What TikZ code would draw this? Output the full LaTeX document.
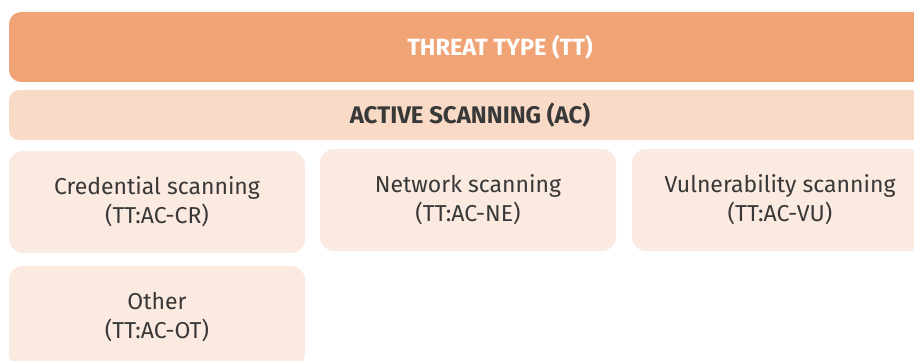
\documentclass[tikz,border=0pt]{standalone}
\usepackage{fontspec}
\setmainfont{Fira Sans}
\usetikzlibrary{positioning}
\definecolor{ttorange}{HTML}{F0A476}
\definecolor{acpeach}{HTML}{F8DAC7}
\definecolor{cardpeach}{HTML}{FBEAE0}
\definecolor{cardtext}{HTML}{383838}

\begin{document}
\begin{tikzpicture}[x=1pt,y=-1pt,
	threatbar/.style={fill=ttorange,rounded corners=12pt,inner sep=0pt,
		minimum width=982pt,minimum height=70pt,text=white,
		font=\fontsize{23.5}{26}\selectfont\bfseries},
	scanbar/.style={fill=acpeach,rounded corners=10pt,inner sep=0pt,
		minimum width=922pt,minimum height=50pt,text=cardtext,
		font=\fontsize{24}{26}\selectfont\bfseries},
	subcard/.style={fill=cardpeach,rounded corners=14pt,inner sep=0pt,
		minimum width=296pt,minimum height=102pt,text=cardtext,align=center,
		font=\fontsize{23}{29}\selectfont}
	]
	\useasboundingbox (0,0) rectangle (914,361);
	\clip (0,0) rectangle (914,361);

	\node[threatbar] (tt) at (500,47) {THREAT TYPE (TT)};
	\node[scanbar] (ac) at (470,115) {ACTIVE SCANNING (AC)};

	\node[subcard] (cr) at (157,202) {Credential scanning\\(TT:AC-CR)};
	\node[subcard] (ne) at (468,200) {Network scanning\\(TT:AC-NE)};
	\node[subcard] (vu) at (780,200) {Vulnerability scanning\\(TT:AC-VU)};
	\node[subcard] (ot) at (157,317) {Other\\(TT:AC-OT)};

\end{tikzpicture}
\end{document}
